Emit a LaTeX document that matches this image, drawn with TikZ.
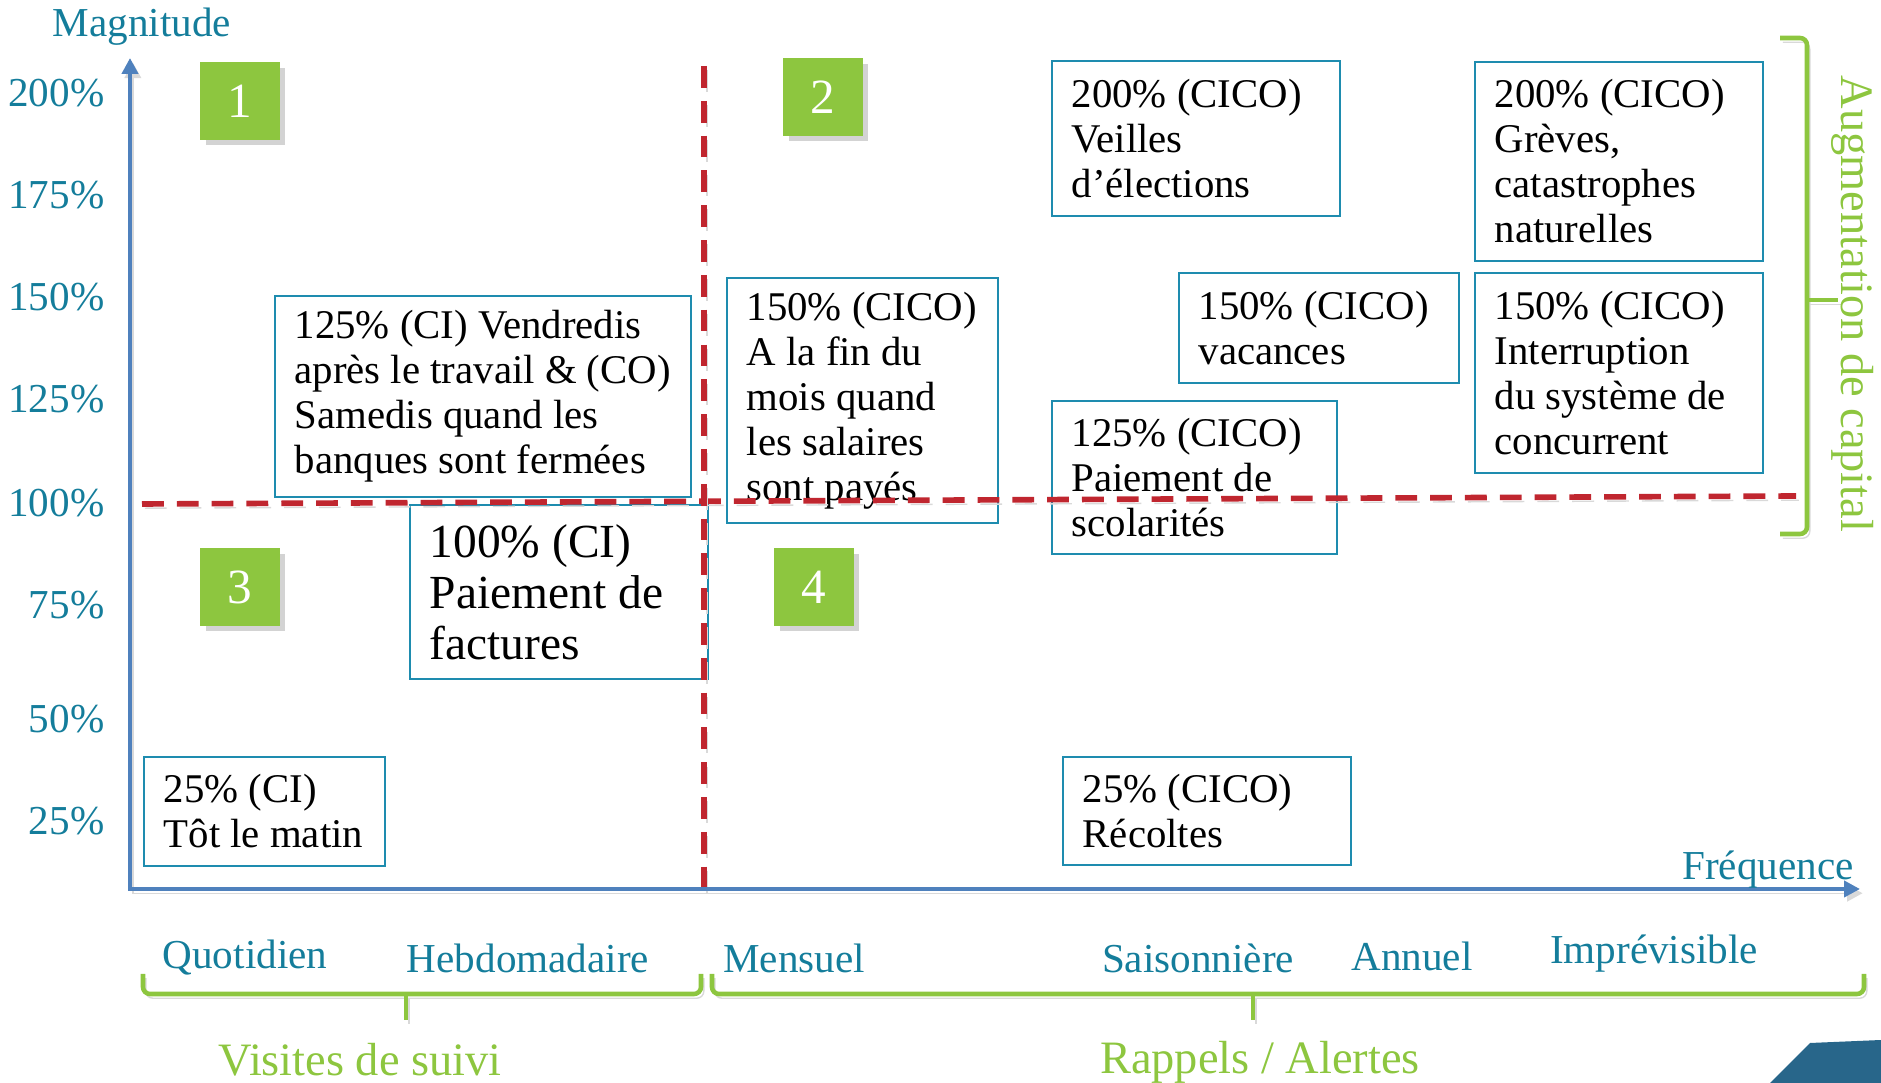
\documentclass[tikz,border=0pt]{standalone}
\usepackage{fontspec}
\setmainfont{Liberation Serif}
\usetikzlibrary{positioning,arrows.meta,shadows}

\definecolor{bleutexte}{RGB}{20,125,155}
\definecolor{bleucadre}{RGB}{30,140,175}
\definecolor{bleuaxe}{RGB}{79,129,189}
\definecolor{vertclair}{RGB}{141,198,63}
\definecolor{rougeligne}{RGB}{192,38,47}
\definecolor{bleucoin}{RGB}{40,102,138}

\tikzset{
  ombre/.style={preaction={draw=black!15, transform canvas={xshift=0.8pt, yshift=-1.2pt}}},
  axe/.style={draw=bleuaxe, line width=1.4pt, {Triangle[length=4.5pt,width=4.5pt]}-{Triangle[length=4.5pt,width=4.5pt]}, ombre},
  seuil/.style={draw=rougeligne, line width=1.6pt, dash pattern=on 6.2pt off 3.7pt,
    preaction={draw=black!15, dash pattern=on 6.2pt off 3.7pt, transform canvas={xshift=0.8pt, yshift=-1.2pt}}},
  cadre/.style={draw=bleucadre, line width=0.5pt, inner sep=0pt, anchor=north west},
  texte/.style={inner sep=0pt, align=left, font=\fontsize{11.6}{12.8}\selectfont},
  grandtexte/.style={texte, font=\fontsize{13.5}{14.5}\selectfont},
  carre/.style={fill=vertclair, text=white, minimum width=0.79cm, minimum height=0.77cm,
    font=\fontsize{14}{14}\selectfont, drop shadow={opacity=0.35, shadow xshift=1.5pt, shadow yshift=-1.5pt}},
  graduation/.style={text=bleutexte, anchor=east, inner sep=0pt, font=\fontsize{11.7}{12.8}\selectfont},
  frequence/.style={text=bleutexte, inner sep=0pt, font=\fontsize{11.7}{12.8}\selectfont},
  accolade/.style={draw=vertclair, line width=1.3pt, rounded corners=2pt, ombre},
  groupe/.style={text=vertclair, inner sep=0pt, font=\fontsize{13.2}{14}\selectfont},
}

\begin{document}
\begin{tikzpicture}[x=0.01cm, y=-0.01cm]
\useasboundingbox (0,0) rectangle (1881,1083);

% we fix the ends of the axes and of the thresholds
\coordinate (haut) at (130,58);
\coordinate (droite) at (1860,889);
\coordinate (s1) at (142,504);
\coordinate (s2) at (1796,496);
\coordinate (v1) at (704,66);
\coordinate (v2) at (704,889);

% we draw the boxes
\node[cadre, minimum width=4.16cm, minimum height=2.01cm] (vendredis) at (274,295) {};
\node[texte, right=0.2cm of vendredis.west] (tvendredis) {125\% (CI) Vendredis\\après le travail \& (CO)\\Samedis quand les\\banques sont fermées};

\node[cadre, minimum width=2.71cm, minimum height=2.45cm] (salaires) at (726,277) {};
\node[texte, right=0.2cm of salaires.west] (tsalaires) {150\% (CICO)\\A la fin du\\mois quand\\les salaires\\sont payés};

\node[cadre, minimum width=2.88cm, minimum height=1.55cm] (elections) at (1051,60) {};
\node[texte, right=0.2cm of elections.west] (telections) {200\% (CICO)\\Veilles\\d’élections};

\node[cadre, minimum width=2.88cm, minimum height=1.99cm] (greves) at (1474,61) {};
\node[texte, right=0.2cm of greves.west] (tgreves) {200\% (CICO)\\Grèves,\\catastrophes\\naturelles};

\node[cadre, minimum width=2.80cm, minimum height=1.10cm] (vacances) at (1178,272) {};
\node[texte, right=0.2cm of vacances.west] (tvacances) {150\% (CICO)\\vacances};

\node[cadre, minimum width=2.88cm, minimum height=2.00cm] (concurrent) at (1474,272) {};
\node[texte, right=0.2cm of concurrent.west] (tconcurrent) {150\% (CICO)\\Interruption\\du système de\\concurrent};

\node[cadre, minimum width=2.85cm, minimum height=1.53cm] (scolarites) at (1051,400) {};
\node[texte, right=0.2cm of scolarites.west] (tscolarites) {125\% (CICO)\\Paiement de\\scolarités};

\node[cadre, minimum width=2.98cm, minimum height=1.74cm] (factures) at (409,504) {};
\node[grandtexte, right=0.2cm of factures.west] (tfactures) {100\% (CI)\\Paiement de\\factures};

\node[cadre, minimum width=2.41cm, minimum height=1.09cm] (matin) at (143,756) {};
\node[texte, right=0.2cm of matin.west] (tmatin) {25\% (CI)\\Tôt le matin};

\node[cadre, minimum width=2.88cm, minimum height=1.08cm] (recoltes) at (1062,756) {};
\node[texte, right=0.2cm of recoltes.west] (trecoltes) {25\% (CICO)\\Récoltes};

% the thresholds
\draw[seuil] (s1) -- (s2);
\draw[seuil] (v1) -- (v2);

% the axes
\draw[axe] (haut) |- (droite);
\node[frequence] (magnitude) at (142,27) {Magnitude};
\node[frequence] (frequence) at (1768,870) {Fréquence};

\foreach \val/\ypos in {200/93,175/195,150/297,125/399,100/503,75/605,50/719,25/821}
  \node[graduation] (g\val) at (105,\ypos) {\val\%};

\foreach \nom/\xpos/\ypos in {Quotidien/245/958,Hebdomadaire/528/958,Mensuel/794/958,Saisonnière/1198/958,Annuel/1412/956,Imprévisible/1654/954}
  \node[frequence] (f\xpos) at (\xpos,\ypos) {\nom};

% the quadrants
\node[carre] (q1) at (240,101) {1};
\node[carre] (q2) at (823,97) {2};
\node[carre] (q3) at (240,587) {3};
\node[carre] (q4) at (814,587) {4};

% the braces
\draw[accolade] (143,974) -- (143,994) -- (701,994) -- (701,974);
\draw[accolade] (406,994) -- (406,1020);
\node[groupe] (suivi) at (360,1060) {Visites de suivi};

\draw[accolade] (712,974) -- (712,994) -- (1864,994) -- (1864,974);
\draw[accolade] (1253,994) -- (1253,1020);
\node[groupe] (rappels) at (1260,1062) {Rappels / Alertes};

\draw[accolade] (1780,38) -- (1807,38) -- (1807,534) -- (1780,534);
\draw[accolade] (1807,300) -- (1838,300);
\node[groupe, rotate=-90] (capital) at (1853,304) {Augmentation de capital};

% corner
\fill[bleucoin] (1810,1043) -- (1881,1040) -- (1881,1083) -- (1770,1083) -- cycle;

\end{tikzpicture}
\end{document}
